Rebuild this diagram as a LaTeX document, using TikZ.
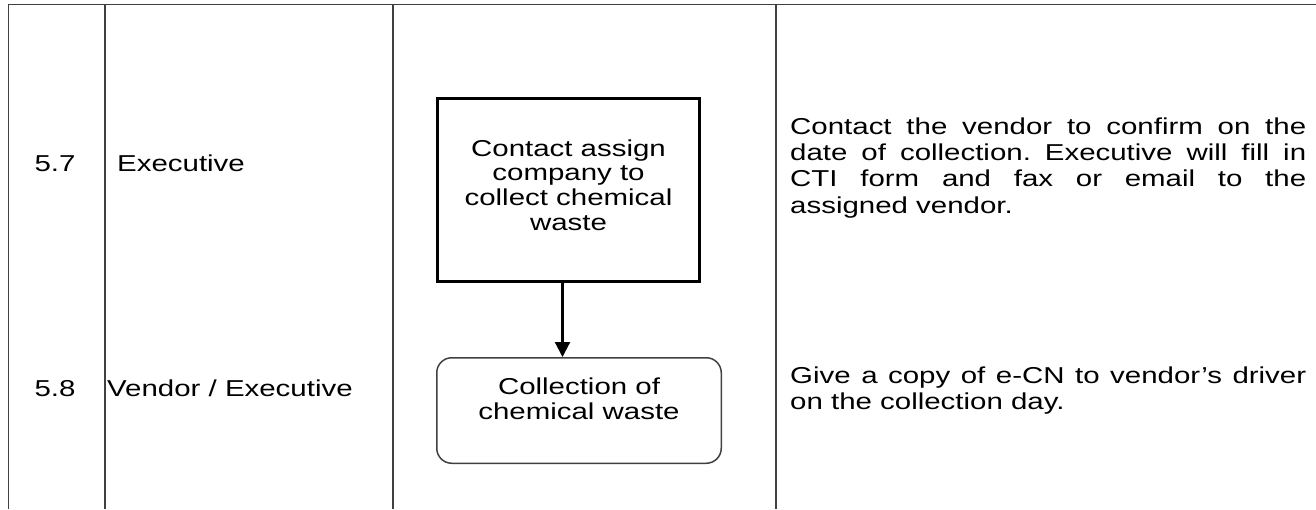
\documentclass[tikz,border=0pt]{standalone}
\usepackage{fontspec}
\setmainfont{Liberation Sans}[FakeStretch=1.28]
\frenchspacing
\definecolor{gridgray}{RGB}{64,64,64}
\usetikzlibrary{arrows.meta,positioning}

\begin{document}
\begin{tikzpicture}[
  x=1pt, y=-1pt,
  every node/.style={font=\fontsize{23}{26}\selectfont,inner sep=0pt},
  gridline/.style={draw=gridgray,line width=1.6pt},
  taskbox/.style={draw=black,line width=3pt,minimum width=262pt,minimum height=183pt,
                  align=center,font=\fontsize{23}{24.7}\selectfont},
  termbox/.style={draw=gridgray,line width=1.5pt,rounded corners=15pt,
                  minimum width=284.5pt,minimum height=105.5pt,align=center,
                  font=\fontsize{23}{25}\selectfont},
  stepno/.style={anchor=base},
  role/.style={anchor=base west},
  remark/.style={anchor=north west,text width=516pt,align=justify},
  arr/.style={-{Triangle[length=15pt,width=15pt]},line width=2.2pt},
]
  \useasboundingbox (0,0) rectangle (1316,509);

  % Table grid
  \draw[gridline] (8.5,509) -- (8.5,4.5) -- (1316,4.5);
  \draw[gridline] (105,4.5) -- (105,509);
  \draw[gridline] (393,4.5) -- (393,509);
  \draw[gridline] (776,4.5) -- (776,509);

  % Step 5.7
  \node[stepno] (n57) at (55,171) {5.7};
  \node[role] (role57) at (117,171) {Executive};
  \node[taskbox] (assign) at (568.5,190)
    {Contact assign\\company to\\collect chemical\\waste\rule[-10pt]{0pt}{10pt}};
  \node[remark,font=\fontsize{23}{26.3}\selectfont] (note57) at (790,117.5)
    {Contact the vendor to confirm on the\linebreak
    date of collection. Executive will fill in\linebreak
    CTI form and fax or email to the\linebreak
    assigned vendor.};

  % Step 5.8
  \node[stepno] (n58) at (55,396) {5.8};
  \node[role] (role58) at (107,396) {Vendor / Executive};
  \node[termbox] (collect) at (579,410.5)
    {Collection of\\chemical waste\rule[-24pt]{0pt}{24pt}};
  \node[remark] (note58) at (790,366.5)
    {Give a copy of e-CN to vendor’s driver\linebreak
    on the collection day.};

  % Flow
  \draw[arr] ([xshift=-6pt]assign.south) -- ([xshift=-6pt]assign.south |- collect.north);
\end{tikzpicture}
\end{document}
